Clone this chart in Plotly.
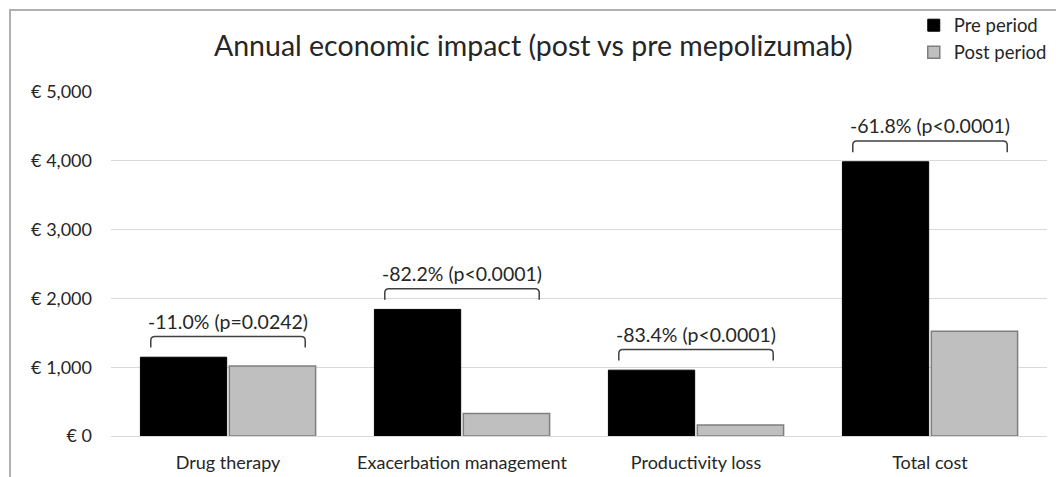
import plotly.graph_objects as go

categories = ["Drug therapy", "Exacerbation management", "Productivity loss", "Total cost"]
pre_values = [1145, 1840, 957, 3986]
post_values = [1019, 328, 159, 1522]
change_labels = ["-11.0% (p=0.0242)", "-82.2% (p<0.0001)", "-83.4% (p<0.0001)", "-61.8% (p<0.0001)"]
y_tickvals = [0, 1000, 2000, 3000, 4000, 5000]
y_ticktext = ["€ 0", "€ 1,000", "€ 2,000", "€ 3,000", "€ 4,000", "€ 5,000"]

FONT = "Lato"
TXT = "#262626"
xs = list(range(len(categories)))

fig = go.Figure()
fig.add_trace(go.Bar(x=xs, y=pre_values, name="Pre period",
                     marker=dict(color="#000000", line=dict(color="#000000", width=1))))
fig.add_trace(go.Bar(x=xs, y=post_values, name="Post period",
                     marker=dict(color="#bfbfbf", line=dict(color="#7f7f7f", width=1.5))))

shapes = []
annotations = []
half = 0.33
rx = 0.018
ry = 60
for i, (a, b, lab) in enumerate(zip(pre_values, post_values, change_labels)):
    top = max(a, b) + 300
    bot = top - 160
    x0, x1 = i - half, i + half
    path = (f"M {x0},{bot} L {x0},{top-ry} Q {x0},{top} {x0+rx},{top} "
            f"L {x1-rx},{top} Q {x1},{top} {x1},{top-ry} L {x1},{bot}")
    shapes.append(dict(type="path", path=path, xref="x", yref="y",
                       line=dict(color="#404040", width=1.5)))
    annotations.append(dict(x=i, y=top, xref="x", yref="y", text=lab, showarrow=False,
                            yanchor="bottom", yshift=2,
                            font=dict(family=FONT, size=19.5, color=TXT)))

# outer frame (top and left edges)
shapes.append(dict(type="path", xref="paper", yref="paper",
                   xsizemode="pixel", ysizemode="pixel", xanchor=0, yanchor=1,
                   path="M -101,-900 L -101,82 L 1200,82",
                   line=dict(color="#b0b0b0", width=2)))

fig.update_layout(
    width=1056, height=477,
    margin=dict(l=111, r=9, t=92, b=41, autoexpand=False),
    paper_bgcolor="white", plot_bgcolor="white",
    barmode="group", bargap=0.24, bargroupgap=0.03,
    title=dict(text="Annual economic impact (post vs pre mepolizumab)",
               x=0.505, xref="container", xanchor="center", y=0.903, yanchor="middle",
               font=dict(family=FONT, size=28.5, color=TXT)),
    legend=dict(xref="container", yref="container", x=0.996, xanchor="right",
                y=0.986, yanchor="top",
                font=dict(family=FONT, size=18.5, color=TXT),
                bgcolor="rgba(0,0,0,0)", itemwidth=30, tracegroupgap=0),
    shapes=shapes, annotations=annotations,
    font=dict(family=FONT),
)
fig.update_xaxes(tickvals=xs, ticktext=categories, range=[-0.5, 3.5], automargin=False,
                 showgrid=False, zeroline=False, showline=False,
                 ticks="outside", ticklen=10, tickcolor="rgba(0,0,0,0)",
                 tickfont=dict(family=FONT, size=18, color=TXT))
fig.update_yaxes(range=[0, 5000], tickvals=y_tickvals, ticktext=y_ticktext, automargin=False,
                 showgrid=True, gridcolor="#d9d9d9", gridwidth=1,
                 zeroline=True, zerolinecolor="#d9d9d9", zerolinewidth=1,
                 showline=False, ticklabelstandoff=18,
                 tickfont=dict(family=FONT, size=18, color=TXT))

fig.write_html("out.html", config={"displayModeBar": False},
               post_script="document.body.style.margin='0';document.body.style.overflow='hidden';")
